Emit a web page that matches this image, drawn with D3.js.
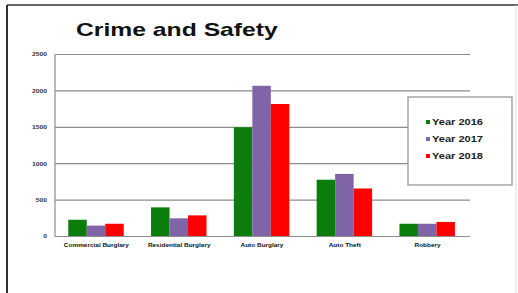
<!DOCTYPE html>
<html>
<head>
<meta charset="utf-8">
<script src="https://cdn.jsdelivr.net/npm/d3@7"></script>
<style>
  body { margin: 0; background: #fff; }
  text { font-family: "Liberation Sans", Arial, sans-serif; font-weight: bold; }
</style>
</head>
<body>
<div id="chart"></div>
<script>
// chart data
const categories = ["Commercial Burglary", "Residential Burglary", "Auto Burglary", "Auto Theft", "Robbery"];
const seriesNames = ["Year 2016", "Year 2017", "Year 2018"];
const year2016 = [230, 400, 1500, 780, 175];
const year2017 = [150, 250, 2070, 860, 175];
const year2018 = [175, 290, 1820, 660, 200];
const yTicks = [0, 500, 1000, 1500, 2000, 2500];
const colors = ["#0b7d0b", "#8064a8", "#fe0000"];

const width = 518, height = 293;
const svg = d3.select("#chart").append("svg")
    .attr("width", width)
    .attr("height", height);

// stretch text horizontally (the source picture is wider than its fonts)
function stretch(sel, k) {
    sel.each(function () {
        const len = this.getComputedTextLength();
        d3.select(this).attr("textLength", len * k).attr("lengthAdjust", "spacingAndGlyphs");
    });
}

// outer frame
svg.append("line").attr("x1", 7).attr("x2", 7).attr("y1", 5).attr("y2", height)
    .attr("stroke", "#333").attr("stroke-width", 2);
svg.append("line").attr("x1", 7).attr("x2", width).attr("y1", 5).attr("y2", 5)
    .attr("stroke", "#333").attr("stroke-width", 1.5);
svg.append("line").attr("x1", 516).attr("x2", 516).attr("y1", 5).attr("y2", height)
    .attr("stroke", "#ddd").attr("stroke-width", 1);

// scales
const x0 = d3.scaleBand().domain(categories).range([55, 469]);
const x1 = d3.scaleBand().domain(seriesNames)
    .range([x0.bandwidth() * 0.16, x0.bandwidth() * 0.83]);
const y = d3.scaleLinear().domain([0, 2500]).range([236.5, 54.5]);

// gridlines
svg.append("g").selectAll("line").data(yTicks).join("line")
    .attr("x1", 55).attr("x2", 470)
    .attr("y1", d => y(d)).attr("y2", d => y(d))
    .attr("stroke", "#8c8c8c").attr("stroke-width", 1.2);

// left axis line
svg.append("line").attr("x1", 55).attr("x2", 55)
    .attr("y1", y(2500)).attr("y2", y(0))
    .attr("stroke", "#8c8c8c").attr("stroke-width", 1.2);

// y tick labels
const yLabels = svg.append("g").selectAll("text").data(yTicks).join("text")
    .attr("x", 47).attr("y", d => y(d) + 1.8)
    .attr("text-anchor", "end")
    .attr("font-size", 5)
    .attr("fill", "#333")
    .text(d => d);
stretch(yLabels, 1.35);

// bars
const series = [year2016, year2017, year2018];
const groups = svg.append("g").selectAll("g").data(categories).join("g")
    .attr("transform", d => `translate(${x0(d)},0)`);
groups.selectAll("rect")
    .data((c, i) => seriesNames.map((s, j) => ({ s, v: series[j][i], j })))
    .join("rect")
    .attr("x", d => x1(d.s))
    .attr("width", x1.bandwidth())
    .attr("y", d => y(d.v))
    .attr("height", d => y(0) - y(d.v))
    .attr("fill", d => colors[d.j]);

// baseline over the bars
svg.append("line").attr("x1", 55).attr("x2", 470)
    .attr("y1", y(0)).attr("y2", y(0))
    .attr("stroke", "#8c8c8c").attr("stroke-width", 1.2);

// category labels
const catLabels = svg.append("g").selectAll("text").data(categories).join("text")
    .attr("x", d => x0(d) + x0.bandwidth() / 2)
    .attr("y", 247)
    .attr("text-anchor", "middle")
    .attr("font-size", 5.5)
    .attr("fill", "#111")
    .text(d => d);
catLabels.each(function () {
    const len = this.getComputedTextLength();
    d3.select(this).attr("textLength", len * 1.17).attr("lengthAdjust", "spacingAndGlyphs");
});

// title
const title = svg.append("text")
    .attr("x", 76).attr("y", 36)
    .attr("font-size", 19)
    .attr("fill", "#111")
    .text("Crime and Safety");
stretch(title, 1.3);

// legend
const legend = svg.append("g");
legend.append("rect")
    .attr("x", 408).attr("y", 97)
    .attr("width", 104).attr("height", 88)
    .attr("fill", "#fff")
    .attr("stroke", "#999").attr("stroke-width", 1.3);
const items = legend.selectAll("g.item").data(seriesNames).join("g")
    .attr("class", "item")
    .attr("transform", (d, i) => `translate(426,${122 + i * 17})`);
items.append("rect")
    .attr("x", 0).attr("y", -2)
    .attr("width", 4).attr("height", 4)
    .attr("fill", (d, i) => colors[i]);
const legText = items.append("text")
    .attr("x", 6).attr("y", 3)
    .attr("font-size", 8.5)
    .attr("fill", "#222")
    .text(d => d);
stretch(legText, 1.3);
</script>
</body>
</html>
